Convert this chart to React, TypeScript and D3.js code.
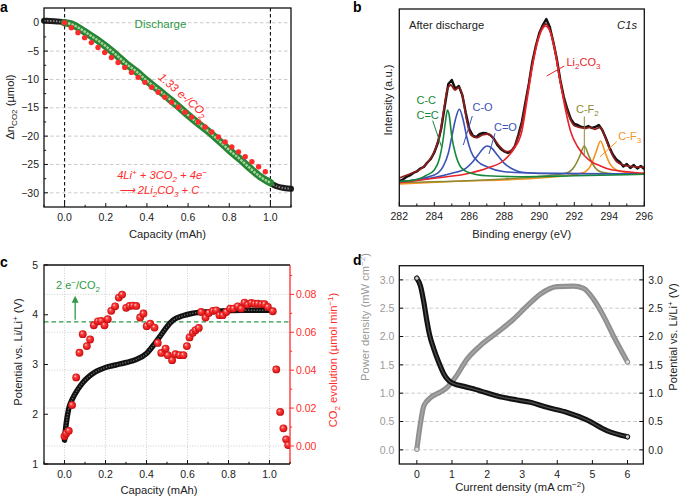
import * as d3 from "d3";

type Pt = readonly [number, number];

const font = "'Liberation Sans', Arial, Helvetica, sans-serif";
const tickSize = 10.5;
const titleSize = 11.2;

// ---- panel a: CO2 consumption during discharge ----
const aRestBefore: Pt[] = [
  [-0.1, 0.35], [-0.075, 0.32], [-0.05, 0.28], [-0.025, 0.2], [0, 0.05]
];
const aDischarge: Pt[] = [
  [0, 0], [0.033, -0.24], [0.065, -0.83], [0.098, -1.59], [0.13, -2.35], [0.171, -3.35],
  [0.203, -4.23], [0.252, -5.7], [0.301, -7.29], [0.35, -8.64], [0.4, -10.23], [0.447, -11.58],
  [0.496, -13.05], [0.545, -14.52], [0.6, -16.29], [0.659, -18.05], [0.707, -19.41],
  [0.756, -21.0], [0.8, -22.47], [0.854, -24.12], [0.902, -25.7], [0.951, -27.17], [1.0, -28.23]
];
const aRestAfter: Pt[] = [
  [0.99, -27.9], [1.01, -28.5], [1.03, -28.85], [1.05, -29.05], [1.075, -29.2], [1.1, -29.3]
];
const aTheoryX = [
  0, 0.0325, 0.065, 0.0975, 0.13, 0.1625, 0.195, 0.2275, 0.26, 0.2925, 0.325, 0.3575, 0.39,
  0.4225, 0.455, 0.4875, 0.52, 0.5525, 0.585, 0.6175, 0.65, 0.6825, 0.715, 0.7475, 0.78,
  0.8125, 0.845, 0.8775, 0.91, 0.9425, 0.975
];
const aTheoryY = [
  0, -0.88, -1.75, -2.63, -3.5, -4.38, -5.26, -6.13, -7.01, -7.88, -8.76, -9.63, -10.51,
  -11.39, -12.26, -13.14, -14.01, -14.89, -15.77, -16.64, -17.52, -18.39, -19.27, -20.15,
  -21.02, -21.9, -22.77, -23.65, -24.52, -25.4, -26.28
];
const aMarkers = [0, 1.0];
const aXTicks = [0, 0.2, 0.4, 0.6, 0.8, 1.0];
const aXMinor = [-0.1, 0.1, 0.3, 0.5, 0.7, 0.9, 1.1];
const aYTicks = [0, -5, -10, -15, -20, -25, -30];
const aYMinor = [-2.5, -7.5, -12.5, -17.5, -22.5, -27.5];

// ---- panel b: XPS C1s after discharge ----
const bRaw: Pt[] = [
  [282.0, 26], [282.2, 27.5], [282.4, 30], [282.6, 31.5], [282.8, 34], [283.0, 35.5],
  [283.2, 38.5], [283.4, 40], [283.6, 44.5], [283.8, 48], [284.0, 54.5], [284.2, 64],
  [284.4, 79], [284.6, 101], [284.8, 123], [285.0, 127], [285.2, 118], [285.4, 121],
  [285.6, 112], [285.8, 94], [286.0, 78], [286.2, 71.5], [286.4, 70], [286.6, 73],
  [286.8, 74], [287.0, 73.5], [287.2, 72], [287.4, 68.5], [287.6, 62], [287.8, 58],
  [288.0, 55.5], [288.2, 54], [288.4, 55.5], [288.6, 60.5], [288.8, 72], [289.0, 85],
  [289.2, 104], [289.4, 123], [289.6, 145], [289.8, 161], [290.0, 174], [290.2, 182],
  [290.4, 188], [290.6, 180], [290.8, 165], [291.0, 148], [291.2, 127], [291.4, 110],
  [291.6, 98], [291.8, 88], [292.0, 83], [292.2, 82], [292.4, 80], [292.6, 79.5],
  [292.8, 81], [293.0, 79], [293.2, 80], [293.4, 82], [293.6, 77], [293.8, 69],
  [294.0, 60], [294.2, 52.5], [294.4, 47.5], [294.6, 45], [294.8, 40.5], [295.0, 43],
  [295.2, 39], [295.4, 42], [295.6, 38.5], [295.8, 41], [296.0, 38]
];
const bEnvelope: Pt[] = [
  [282.0, 29], [282.7, 33.7], [283.28, 38.7], [283.66, 45.3], [284.04, 57], [284.33, 73.7],
  [284.57, 100], [284.76, 118.7], [284.95, 122], [285.18, 117], [285.41, 119.7],
  [285.66, 107], [285.85, 87], [286.1, 72], [286.42, 69.3], [286.74, 72], [287.05, 73],
  [287.37, 68.7], [287.75, 60.3], [288.14, 55.3], [288.42, 57], [288.7, 65.3], [289.0, 83],
  [289.28, 110], [289.57, 140], [289.85, 163.7], [290.14, 178.7], [290.38, 183],
  [290.61, 177], [290.9, 157], [291.18, 127], [291.47, 103.7], [291.75, 88.7],
  [292.04, 81], [292.33, 79.7], [292.61, 78.7], [292.9, 79.7], [293.18, 77.7],
  [293.47, 79.7], [293.75, 70.3], [294.04, 57], [294.42, 45.3], [294.8, 42], [295.37, 40.3],
  [296.0, 39.7]
];
const bLi2CO3: Pt[] = [
  [282, 24.3], [284, 28.7], [286, 33.7], [287, 38.7], [288, 47], [288.5, 57], [289, 75.5],
  [289.3, 107], [289.6, 140], [289.9, 165], [290.2, 178.7], [290.35, 181], [290.6, 176],
  [290.9, 155], [291.2, 125], [291.5, 97], [291.8, 75], [292.2, 60], [292.6, 51], [293, 45],
  [293.5, 41], [294, 37.7], [295, 35.3], [296, 33.7]
];
const bCC: Pt[] = [
  [282, 25.5], [283, 27.5], [283.5, 31.3], [284, 37], [284.3, 48.7], [284.5, 67], [284.65, 87],
  [284.75, 97], [284.85, 92], [285, 70.3], [285.2, 53.7], [285.5, 40.3], [286, 34.3],
  [287, 31.3], [289, 30.3], [292, 31.2], [296, 32.7]
];
const bCO: Pt[] = [
  [282, 25.3], [284, 32], [284.5, 40.3], [284.8, 53.7], [285, 70.3], [285.2, 87],
  [285.43, 97.7], [285.65, 87], [285.85, 70.3], [286.1, 55.3], [286.5, 45.3], [287, 40.3],
  [288, 35.3], [290, 33.7], [296, 33]
];
const bCdO: Pt[] = [
  [282, 25], [285, 33.7], [285.8, 38.7], [286.2, 45.3], [286.5, 52], [286.8, 58.7], [287, 61],
  [287.3, 58.7], [287.6, 52], [288, 43.7], [288.5, 37.7], [289, 34.7], [290, 33.5], [296, 33]
];
const bCF2: Pt[] = [
  [282, 24.5], [288, 28], [291.5, 33.7], [292, 40.3], [292.3, 50.3], [292.57, 61],
  [292.85, 50.3], [293.15, 40.3], [293.6, 34.7], [294.5, 33], [296, 33]
];
const bCF3: Pt[] = [
  [282, 23], [285, 25.5], [290, 29], [292.5, 34.3], [293, 43.7], [293.25, 55.3], [293.5, 66],
  [293.75, 55.3], [294, 44.3], [294.5, 36.3], [295.5, 33.7], [296, 33.5]
];
const bXTicks = [282, 284, 286, 288, 290, 292, 294, 296];
const bXMinor = [283, 285, 287, 289, 291, 293, 295];

// ---- panel c: charge potential and CO2 evolution ----
const cPotential: Pt[] = [
  [0, 1.48], [0.008, 1.8], [0.02, 2.1], [0.04, 2.32], [0.065, 2.5], [0.09, 2.64], [0.12, 2.76],
  [0.155, 2.86], [0.2, 2.94], [0.25, 2.99], [0.3, 3.04], [0.35, 3.1], [0.4, 3.22],
  [0.44, 3.42], [0.465, 3.56], [0.5, 3.76], [0.53, 3.89], [0.577, 3.98], [0.626, 4.03],
  [0.707, 4.06], [0.789, 4.08], [0.87, 4.09], [0.951, 4.09], [1.0, 4.09]
];
const cEvoX = [
  0, 0.008, 0.021, 0.037, 0.057, 0.073, 0.089, 0.109, 0.125, 0.143, 0.163, 0.179, 0.195,
  0.211, 0.228, 0.247, 0.265, 0.281, 0.301, 0.317, 0.333, 0.35, 0.369, 0.385, 0.401, 0.418,
  0.439, 0.455, 0.472, 0.493, 0.504, 0.525, 0.541, 0.561, 0.58, 0.597, 0.61, 0.626, 0.639,
  0.655, 0.667, 0.688, 0.704, 0.724, 0.74, 0.756, 0.772, 0.789, 0.808, 0.824, 0.845, 0.862,
  0.878, 0.894, 0.911, 0.927, 0.943, 0.96, 0.976, 0.992, 1.016, 1.033, 1.052, 1.068, 1.081,
  1.091
];
const cEvoY = [
  0.0052, 0.0066, 0.008, 0.0216, 0.0362, 0.0492, 0.059, 0.0527, 0.0562, 0.0637, 0.0658,
  0.066, 0.0637, 0.0669, 0.0713, 0.0737, 0.0783, 0.0799, 0.0729, 0.0739, 0.0741, 0.0739,
  0.0678, 0.0699, 0.0632, 0.0646, 0.0625, 0.0544, 0.0491, 0.0514, 0.0479, 0.0453, 0.0484,
  0.0479, 0.0479, 0.0527, 0.0573, 0.0597, 0.0611, 0.0623, 0.0707, 0.0678, 0.0702, 0.0713,
  0.0716, 0.069, 0.069, 0.0707, 0.0725, 0.0725, 0.0737, 0.0725, 0.0757, 0.0746, 0.0755,
  0.0751, 0.0751, 0.0748, 0.0748, 0.0734, 0.0711, 0.0404, 0.018, 0.0093, 0.0035, 0.0005
];
const cTheory = 0.0655;
const cArrowX = 0.052;
const cXTicks = [0, 0.2, 0.4, 0.6, 0.8, 1.0];
const cXMinor = [-0.1, 0.1, 0.3, 0.5, 0.7, 0.9, 1.1];
const cYTicks = [1, 2, 3, 4, 5];
const cRTicks = [0, 0.02, 0.04, 0.06, 0.08];
const cRMinor = [0.01, 0.03, 0.05, 0.07, 0.09];

// ---- panel d: discharge polarization and power ----
const dPotential: Pt[] = [
  [0, 3.03], [0.105, 2.89], [0.2, 2.6], [0.276, 2.31], [0.37, 2.01], [0.484, 1.78],
  [0.626, 1.54], [0.768, 1.34], [0.91, 1.22], [1.05, 1.17], [1.34, 1.12], [1.81, 1.04],
  [2.29, 0.95], [2.85, 0.88], [3.23, 0.84], [3.71, 0.75], [4.28, 0.66], [4.84, 0.53],
  [5.41, 0.34], [6.0, 0.23]
];
const dPower: Pt[] = [
  [0, 0.01], [0.105, 0.48], [0.2, 0.78], [0.39, 0.92], [0.67, 1.02], [0.86, 1.1], [1.1, 1.28],
  [1.43, 1.6], [1.81, 1.84], [2.29, 2.07], [2.76, 2.31], [3.14, 2.54], [3.52, 2.75],
  [3.99, 2.88], [4.46, 2.89], [4.75, 2.85], [5.03, 2.66], [5.32, 2.36], [5.6, 2.01],
  [6.0, 1.55]
];
const dXTicks = [0, 1, 2, 3, 4, 5, 6];
const dYTicks = [0, 0.5, 1.0, 1.5, 2.0, 2.5, 3.0];

const red = "#ff2b2b";
const green = "#2e9a46";

export default function App(): React.JSX.Element {
  return (
    <div style={{ position: "absolute", left: 0, top: 0 }}>
      <svg
        width={685}
        height={498}
        viewBox="0 0 685 498"
        style={{ display: "block", background: "#fff", fontFamily: font }}
      >
        <defs>
          <radialGradient id="ball" cx="50%" cy="50%" r="55%" fx="35%" fy="32%">
            <stop offset="0%" stopColor="#ffe4e4" />
            <stop offset="30%" stopColor="#f44" />
            <stop offset="75%" stopColor="#e01818" />
            <stop offset="100%" stopColor="#a80808" />
          </radialGradient>
        </defs>
        <PanelA />
        <PanelB />
        <PanelC />
        <PanelD />
      </svg>
    </div>
  );
}

function RotTitle({
  x,
  y,
  fill = "#222",
  children
}: {
  readonly x: number;
  readonly y: number;
  readonly fill?: string;
  readonly children: React.ReactNode;
}): React.JSX.Element {
  return (
    <text
      transform={`translate(${x},${y}) rotate(-90)`}
      textAnchor="middle"
      dy="0.35em"
      fontSize={titleSize}
      fill={fill}
    >
      {children}
    </text>
  );
}

// sub- and superscripts shift only themselves, so the following text keeps its baseline
const Sub = ({ t }: { readonly t: string }) => (
  <tspan baselineShift="-2.8" fontSize={8}>
    {t}
  </tspan>
);
const Sup = ({ t }: { readonly t: string }) => (
  <tspan baselineShift="4" fontSize={8}>
    {t}
  </tspan>
);

function minusFmt(v: number, digits: number): string {
  const s = Math.abs(v).toFixed(digits);
  return v < 0 ? `\u2212${s}` : s;
}

function PanelA(): React.JSX.Element {
  const L = 44, R = 291, T = 8, B = 207;
  const x = d3.scaleLinear().domain([-0.1, 1.1]).range([L, R]);
  const y = d3.scaleLinear().domain([-32.5, 2.6]).range([B, T]);
  const ln = d3
    .line<Pt>()
    .x((d) => x(d[0]))
    .y((d) => y(d[1]))
    .curve(d3.curveMonotoneX);
  return (
    <g>
      <text x={0} y={12} fontSize={14} fontWeight="bold">
        a
      </text>
      {aYTicks.map((v) => (
        <line key={v} x1={L} x2={R} y1={y(v)} y2={y(v)} stroke="#c4c4c4" strokeWidth={0.9} strokeDasharray="3.5 2.5" />
      ))}
      {aMarkers.map((v) => (
        <line key={v} x1={x(v)} x2={x(v)} y1={T} y2={B} stroke="#111" strokeWidth={1.1} strokeDasharray="3.5 2.5" />
      ))}
      <path d={ln(aRestBefore) ?? ""} fill="none" stroke="#1c1c1c" strokeWidth={6} strokeLinecap="round" />
      <path d={ln(aRestBefore) ?? ""} fill="none" stroke="#8a8a8a" strokeWidth={1.8} strokeDasharray="1.5 1.5" />
      <path d={ln(aRestAfter) ?? ""} fill="none" stroke="#1c1c1c" strokeWidth={6} strokeLinecap="round" />
      <path d={ln(aRestAfter) ?? ""} fill="none" stroke="#8a8a8a" strokeWidth={1.8} strokeDasharray="1.5 1.5" />
      <path d={ln(aDischarge) ?? ""} fill="none" stroke="#268636" strokeWidth={7.5} strokeLinecap="round" />
      <path d={ln(aDischarge) ?? ""} fill="none" stroke="#a6d69c" strokeWidth={2.4} strokeDasharray="2.5 1" />
      {aTheoryX.map((v, i) => (
        <circle key={v} cx={x(v)} cy={y(aTheoryY[i])} r={2.7} fill={red} />
      ))}
      <rect x={L} y={T} width={R - L} height={B - T} fill="none" stroke="#111" strokeWidth={1.3} />
      {aYTicks.map((v) => (
        <g key={v}>
          <line x1={L} x2={L + 4} y1={y(v)} y2={y(v)} stroke="#111" />
          <text x={L - 5} y={y(v) + 3.7} fontSize={tickSize} textAnchor="end" fill="#222">
            {minusFmt(v, 0)}
          </text>
        </g>
      ))}
      {aYMinor.map((v) => (
        <line key={v} x1={L} x2={L + 2.2} y1={y(v)} y2={y(v)} stroke="#111" />
      ))}
      {aXTicks.map((v) => (
        <g key={v}>
          <line x1={x(v)} x2={x(v)} y1={B} y2={B - 4} stroke="#111" />
          <text x={x(v)} y={B + 14} fontSize={tickSize} textAnchor="middle" fill="#222">
            {v.toFixed(1)}
          </text>
        </g>
      ))}
      {aXMinor.map((v) => (
        <line key={v} x1={x(v)} x2={x(v)} y1={B} y2={B - 2.2} stroke="#111" />
      ))}
      <text x={160.5} y={28} fontSize={11.5} fill={green} textAnchor="middle">
        Discharge
      </text>
      <text transform="translate(183,95) rotate(41)" textAnchor="middle" dy="0.35em" fontSize={11.5} fontStyle="italic" fill={red}>
        1.33 e-/CO<Sub t="2" />
      </text>
      <text x={162} y={179} fontSize={11.2} fontStyle="italic" fill={red} textAnchor="middle">
        4Li<Sup t="+" /> + 3CO<Sub t="2" /> + 4e<Sup t={"\u2212"} />
      </text>
      <text x={159} y={194} fontSize={11.2} fontStyle="italic" fill={red} textAnchor="middle">
        {"\u27f6"} 2Li<Sub t="2" />CO<Sub t="3" /> + C
      </text>
      <RotTitle x={10} y={107}>
        {"\u0394"}n<Sub t="CO2" /> ({"\u00b5"}mol)
      </RotTitle>
      <text x={(L + R) / 2} y={238} fontSize={titleSize} textAnchor="middle" fill="#222">
        Capacity (mAh)
      </text>
    </g>
  );
}

function PanelB(): React.JSX.Element {
  const L = 399.3, R = 644.3, T = 9, B = 206;
  const x = d3.scaleLinear().domain([282, 296]).range([L, R]);
  const y = d3.scaleLinear().domain([1, 198]).range([B, T]);
  const ln = d3
    .line<Pt>()
    .x((d) => x(d[0]))
    .y((d) => y(d[1]))
    .curve(d3.curveMonotoneX);
  const rawLn = d3
    .line<Pt>()
    .x((d) => x(d[0]))
    .y((d) => y(d[1]))
    .curve(d3.curveLinear);
  const comps: { readonly data: Pt[]; readonly color: string }[] = [
    { data: bCF3, color: "#f7921e" },
    { data: bCF2, color: "#8a8a35" },
    { data: bCdO, color: "#3a52b6" },
    { data: bCO, color: "#3a52b6" },
    { data: bLi2CO3, color: "#e8232a" },
    { data: bCC, color: "#15893a" }
  ];
  return (
    <g>
      <text x={353} y={12} fontSize={14} fontWeight="bold">
        b
      </text>
      <path d={rawLn(bRaw) ?? ""} fill="none" stroke="#111" strokeWidth={2.4} strokeLinejoin="round" />
      <path d={ln(bEnvelope) ?? ""} fill="none" stroke="#8b1e1e" strokeWidth={1.8} />
      {comps.map((c, i) => (
        <path key={i} d={ln(c.data) ?? ""} fill="none" stroke={c.color} strokeWidth={1.6} />
      ))}
      <rect x={L} y={T} width={R - L} height={B - T} fill="none" stroke="#111" strokeWidth={1.3} />
      {bXTicks.map((v) => (
        <g key={v}>
          <line x1={x(v)} x2={x(v)} y1={B} y2={B - 4} stroke="#111" />
          <text x={x(v)} y={B + 14} fontSize={tickSize} textAnchor="middle" fill="#222">
            {v}
          </text>
        </g>
      ))}
      {bXMinor.map((v) => (
        <line key={v} x1={x(v)} x2={x(v)} y1={B} y2={B - 2.5} stroke="#111" />
      ))}
      <text x={409} y={29} fontSize={11.2} fill="#222">
        After discharge
      </text>
      <text x={637} y={29} fontSize={11.2} fontStyle="italic" textAnchor="end" fill="#222">
        C1s
      </text>
      <g fontSize={11} fill="#15893a">
        <text x={416.5} y={103.5}>C-C</text>
        <text x={416.5} y={118.5}>C=C</text>
      </g>
      <line x1={432.7} y1={120.7} x2={441.7} y2={147.3} stroke="#15893a" strokeWidth={1} />
      <text x={472.5} y={110.5} fontSize={11} fill="#3a52b6">
        C-O
      </text>
      <line x1={472.3} y1={116} x2={463.3} y2={145} stroke="#3a52b6" strokeWidth={1} />
      <text x={494} y={130.5} fontSize={11} fill="#3a52b6">
        C=O
      </text>
      <line x1={495} y1={133.3} x2={489} y2={154} stroke="#3a52b6" strokeWidth={1} />
      <text x={566.5} y={65.5} fontSize={11} fill="#e8232a">
        Li<Sub t="2" />CO<Sub t="3" />
      </text>
      <line x1={564.3} y1={66} x2={546.7} y2={76} stroke="#e8232a" strokeWidth={1} />
      <text x={576} y={113} fontSize={11} fill="#8a8a35">
        C-F<Sub t="2" />
      </text>
      <line x1={584.3} y1={116.5} x2={584.3} y2={156.7} stroke="#8a8a35" strokeWidth={1} />
      <text x={618.3} y={140} fontSize={11} fill="#f7921e">
        C-F<Sub t="3" />
      </text>
      <line x1={616.7} y1={141.7} x2={600} y2={156.7} stroke="#f7921e" strokeWidth={1} />
      <RotTitle x={388} y={100}>
        Intensity (a.u.)
      </RotTitle>
      <text x={(L + R) / 2} y={238} fontSize={titleSize} textAnchor="middle" fill="#222">
        Binding energy (eV)
      </text>
    </g>
  );
}

function PanelC(): React.JSX.Element {
  const L = 44, R = 290, T = 265, B = 464;
  const x = d3.scaleLinear().domain([-0.1, 1.1]).range([L, R]);
  const y = d3.scaleLinear().domain([1, 5]).range([B, T]);
  const yr = d3.scaleLinear().domain([-0.0095, 0.0955]).range([B, T]);
  const ln = d3
    .line<Pt>()
    .x((d) => x(d[0]))
    .y((d) => y(d[1]))
    .curve(d3.curveMonotoneX);
  return (
    <g>
      <text x={0} y={267} fontSize={14} fontWeight="bold">
        c
      </text>
      {cRTicks.map((v) => (
        <line key={v} x1={L} x2={R} y1={yr(v)} y2={yr(v)} stroke="#c8c8c8" strokeWidth={0.9} strokeDasharray="1 1.6" />
      ))}
      {cXTicks.map((v) => (
        <line key={v} x1={x(v)} x2={x(v)} y1={T} y2={B} stroke="#c8c8c8" strokeWidth={0.9} strokeDasharray="1 1.6" />
      ))}
      <line x1={L} x2={R} y1={yr(cTheory)} y2={yr(cTheory)} stroke={green} strokeWidth={1.2} strokeDasharray="4.5 3" />
      <clipPath id="clipC">
        <rect x={L} y={T} width={R - L} height={B - T} />
      </clipPath>
      <path d={ln(cPotential) ?? ""} fill="none" stroke="#111" strokeWidth={5.5} strokeLinecap="round" />
      <path d={ln(cPotential) ?? ""} fill="none" stroke="#6a6a6a" strokeWidth={1.4} strokeDasharray="1.2 1.6" />
      <g clipPath="url(#clipC)">
        {cEvoX.map((v, i) => (
          <circle key={v} cx={x(v)} cy={yr(cEvoY[i])} r={3.9} fill="url(#ball)" />
        ))}
      </g>
      <line x1={x(cArrowX)} x2={x(cArrowX)} y1={yr(cTheory) - 2} y2={yr(cTheory) - 20} stroke={green} strokeWidth={1.3} />
      <path d={`M${x(cArrowX)},${yr(cTheory) - 26} l-3.5,7 l7,0 z`} fill={green} />
      <text x={56} y={289} fontSize={11} fill={green}>
        2 e<Sup t={"\u2212"} />/CO<Sub t="2" />
      </text>
      <path d={`M${R},${T} H${L} V${B} H${R}`} fill="none" stroke="#111" strokeWidth={1.3} />
      <line x1={R} x2={R} y1={T} y2={B} stroke={red} strokeWidth={1.3} />
      {cYTicks.map((v) => (
        <g key={v}>
          <line x1={L} x2={L + 4} y1={y(v)} y2={y(v)} stroke="#111" />
          <text x={L - 6} y={y(v) + 3.7} fontSize={tickSize} textAnchor="end" fill="#222">
            {v}
          </text>
        </g>
      ))}
      {cRTicks.map((v) => (
        <g key={v}>
          <line x1={R} x2={R + 4} y1={yr(v)} y2={yr(v)} stroke={red} />
          <text x={R + 6} y={yr(v) + 3.7} fontSize={tickSize} fill={red}>
            {v.toFixed(2)}
          </text>
        </g>
      ))}
      {cRMinor.map((v) => (
        <line key={v} x1={R} x2={R + 2.2} y1={yr(v)} y2={yr(v)} stroke={red} />
      ))}
      {cXTicks.map((v) => (
        <g key={v}>
          <line x1={x(v)} x2={x(v)} y1={B} y2={B - 4} stroke="#111" />
          <text x={x(v)} y={B + 14} fontSize={tickSize} textAnchor="middle" fill="#222">
            {v.toFixed(1)}
          </text>
        </g>
      ))}
      {cXMinor.map((v) => (
        <line key={v} x1={x(v)} x2={x(v)} y1={B} y2={B - 2.2} stroke="#111" />
      ))}
      <RotTitle x={18} y={352}>
        Potential vs. Li/Li<Sup t="+" /> (V)
      </RotTitle>
      <RotTitle x={333} y={360} fill={red}>
        CO<Sub t="2" /> evolution ({"\u00b5"}mol min<Sup t={"\u22121"} />)
      </RotTitle>
      <text x={159} y={494} fontSize={titleSize} textAnchor="middle" fill="#222">
        Capacity (mAh)
      </text>
    </g>
  );
}

function PanelD(): React.JSX.Element {
  const L = 399.3, R = 643.3, T = 265.7, B = 464;
  const x = d3.scaleLinear().domain([-0.5, 6.45]).range([L, R]);
  const y = d3.scaleLinear().domain([-0.25, 3.25]).range([B, T]);
  const ln = d3
    .line<Pt>()
    .x((d) => x(d[0]))
    .y((d) => y(d[1]))
    .curve(d3.curveMonotoneX);
  const gray = "#8f8f8f";
  const ends = (data: Pt[]) => [data[0], data[data.length - 1]];
  return (
    <g>
      <text x={353} y={265} fontSize={14} fontWeight="bold">
        d
      </text>
      {dYTicks.map((v) => (
        <line key={v} x1={L} x2={R} y1={y(v)} y2={y(v)} stroke="#c4c4c4" strokeWidth={0.9} strokeDasharray="3.5 2.5" />
      ))}
      <path d={ln(dPower) ?? ""} fill="none" stroke={gray} strokeWidth={5.2} strokeLinecap="round" />
      <path d={ln(dPower) ?? ""} fill="none" stroke="#a8a8a8" strokeWidth={1.4} />
      <path d={ln(dPotential) ?? ""} fill="none" stroke="#111" strokeWidth={5.2} strokeLinecap="round" />
      <path d={ln(dPotential) ?? ""} fill="none" stroke="#4a4a4a" strokeWidth={1.3} />
      {ends(dPower).map((d, i) => (
        <circle key={i} cx={x(d[0])} cy={y(d[1])} r={2.2} fill="#ddd" stroke={gray} strokeWidth={1} />
      ))}
      {ends(dPotential).map((d, i) => (
        <circle key={i} cx={x(d[0])} cy={y(d[1])} r={2.2} fill="#ccc" stroke="#111" strokeWidth={1} />
      ))}
      <rect x={L} y={T} width={R - L} height={B - T} fill="none" stroke="#111" strokeWidth={1.3} />
      {dYTicks.map((v) => (
        <g key={v}>
          <line x1={L} x2={L + 4} y1={y(v)} y2={y(v)} stroke="#111" />
          <line x1={R} x2={R - 4} y1={y(v)} y2={y(v)} stroke="#111" />
          <text x={L - 5} y={y(v) + 3.7} fontSize={tickSize} textAnchor="end" fill="#9a9a9a">
            {v.toFixed(1)}
          </text>
          <text x={R + 5} y={y(v) + 3.7} fontSize={tickSize} fill="#222">
            {v.toFixed(1)}
          </text>
        </g>
      ))}
      {dXTicks.map((v) => (
        <g key={v}>
          <line x1={x(v)} x2={x(v)} y1={B} y2={B - 4} stroke="#111" />
          <text x={x(v)} y={B + 14} fontSize={tickSize} textAnchor="middle" fill="#222">
            {v}
          </text>
        </g>
      ))}
      <RotTitle x={365} y={317} fill="#9a9a9a">
        Power density (mW cm<Sup t={"\u22122"} />)
      </RotTitle>
      <RotTitle x={673} y={337}>
        Potential vs. Li/Li<Sup t="+" /> (V)
      </RotTitle>
      <text x={520} y={491} fontSize={titleSize} textAnchor="middle" fill="#222">
        Current density (mA cm<Sup t={"\u22122"} />)
      </text>
    </g>
  );
}
